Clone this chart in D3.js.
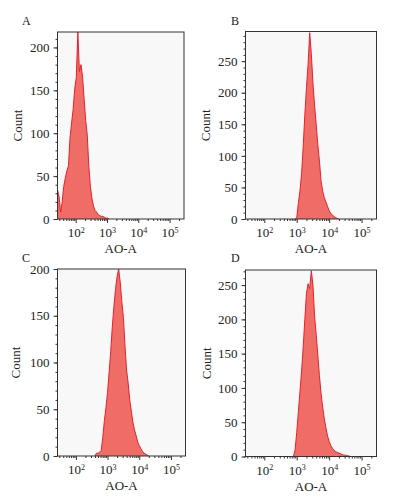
<!DOCTYPE html>
<html>
<head>
<meta charset="utf-8">
<script src="https://cdn.jsdelivr.net/npm/d3@7"></script>
<style>
  body { margin: 0; background: #fff; }
  text { font-family: "Liberation Serif", "Times New Roman", serif; fill: #222; }
</style>
</head>
<body>
<svg id="chart" width="395" height="498"></svg>
<script>
// histogram counts, one value per bin of 0.05 decades (log10 of AO-A)
const binStep = 0.05;

const aStart = 1.42;
const aCounts = [34, 26, 8, 20, 38, 48, 56, 62, 95, 112, 128, 152, 165, 218, 172, 180, 166, 140,
  115, 98, 62, 38, 24, 15, 10, 8, 5, 4, 3, 3, 2, 1, 1, 0];

const bStart = 2.95;
const bCounts = [0, 2, 25, 45, 72, 115, 165, 208, 245, 295, 262, 215, 180, 150, 118, 92, 60, 44,
  34, 27, 20, 13, 9, 6, 4, 2, 1, 0];

const cStart = 2.60;
const cCounts = [0, 3, 3, 4, 6, 20, 38, 52, 68, 90, 112, 138, 160, 178, 192, 200, 186, 165, 148,
  118, 92, 78, 60, 48, 36, 28, 22, 15, 11, 8, 5, 3, 2, 1, 0];

const dStart = 2.90;
const dCounts = [0, 10, 35, 65, 95, 125, 160, 200, 238, 252, 245, 271, 250, 205, 178, 148, 118,
  92, 72, 55, 42, 30, 22, 16, 12, 9, 7, 6, 5, 4, 3, 2, 2, 1, 1, 0];

const xMajor = [1e2, 1e3, 1e4, 1e5];
const xDomain = [Math.pow(10, 1.42), Math.pow(10, 5.46)];

const panels = [
  { label: "A", start: aStart, counts: aCounts, yMax: 218, yTicks: [0, 50, 100, 150, 200],
    left: 57.5, top: 32, right: 184, bottom: 219, labelX: 22, labelY: 25, countX: 17 },
  { label: "B", start: bStart, counts: bCounts, yMax: 297, yTicks: [0, 50, 100, 150, 200, 250],
    left: 245.5, top: 31.5, right: 376.5, bottom: 219, labelX: 231, labelY: 25, countX: 205 },
  { label: "C", start: cStart, counts: cCounts, yMax: 200, yTicks: [0, 50, 100, 150, 200],
    left: 57.5, top: 269, right: 185.5, bottom: 456, labelX: 22, labelY: 262, countX: 15 },
  { label: "D", start: dStart, counts: dCounts, yMax: 272, yTicks: [0, 50, 100, 150, 200, 250],
    left: 245.5, top: 270, right: 376.5, bottom: 456.5, labelX: 231, labelY: 262, countX: 206 }
];

const svg = d3.select("#chart");

// minor log ticks 2..9 for every decade in range
const xMinor = [];
for (let e = 1; e <= 5; e++) {
  for (let m = 2; m <= 9; m++) {
    const v = m * Math.pow(10, e);
    if (v > xDomain[0] && v < xDomain[1]) xMinor.push(v);
  }
}

panels.forEach(p => {
  const w = p.right - p.left, h = p.bottom - p.top;
  const g = svg.append("g").attr("transform", `translate(${p.left},${p.top})`);

  const x = d3.scaleLog().domain(xDomain).range([0, w]);
  const y = d3.scaleLinear().domain([0, p.yMax]).range([h, 0]);

  g.append("rect")
    .attr("width", w).attr("height", h)
    .attr("fill", "#f8f8f8");

  const clipId = "clip" + p.label;
  g.append("clipPath").attr("id", clipId)
    .append("rect").attr("width", w).attr("height", h);

  const pts = p.counts.map((c, i) => ({ v: Math.pow(10, p.start + i * binStep), c: c }));

  const area = d3.area()
    .x(d => x(d.v))
    .y0(h)
    .y1(d => y(d.c));
  const line = d3.line()
    .x(d => x(d.v))
    .y(d => y(d.c));

  g.append("path")
    .datum(pts)
    .attr("clip-path", `url(#${clipId})`)
    .attr("fill", "#f06c66")
    .attr("d", area);
  g.append("path")
    .datum(pts)
    .attr("clip-path", `url(#${clipId})`)
    .attr("fill", "none")
    .attr("stroke", "#e2232a")
    .attr("stroke-width", 1)
    .attr("d", line);

  // y axis: major + minor ticks
  const minorY = d3.range(0, p.yMax + 1, 10);
  g.append("g")
    .call(d3.axisLeft(y).tickValues(minorY).tickSize(2).tickFormat(""))
    .call(a => a.select(".domain").remove())
    .selectAll("line").attr("stroke", "#333");
  const yAx = g.append("g")
    .call(d3.axisLeft(y).tickValues(p.yTicks).tickSize(4).tickPadding(4))
    .call(a => a.select(".domain").remove());
  yAx.selectAll("line").attr("stroke", "#333");
  yAx.selectAll("text")
    .attr("font-size", 13)
    .attr("font-family", '"Liberation Serif", serif')
    .attr("fill", "#222");

  // x axis: decades with superscript labels, minor log ticks
  g.append("g")
    .attr("transform", `translate(0,${h})`)
    .call(d3.axisBottom(x).tickValues(xMinor).tickSize(2).tickFormat(""))
    .call(a => a.select(".domain").remove())
    .selectAll("line").attr("stroke", "#333");
  const xAx = g.append("g")
    .attr("transform", `translate(0,${h})`)
    .call(d3.axisBottom(x).tickValues(xMajor).tickSize(4).tickPadding(7))
    .call(a => a.select(".domain").remove());
  xAx.selectAll("line").attr("stroke", "#333");
  xAx.selectAll("text").each(function (d) {
    const t = d3.select(this);
    const exp = Math.round(Math.log10(d));
    t.text("")
      .attr("font-family", '"Liberation Serif", serif')
      .attr("fill", "#222");
    t.append("tspan").attr("font-size", 13).text("10");
    t.append("tspan").attr("font-size", 8).attr("dy", "-0.55em").text(exp);
  });

  // frame
  g.append("rect")
    .attr("width", w).attr("height", h)
    .attr("fill", "none")
    .attr("stroke", "#333")
    .attr("stroke-width", 1);

  // titles
  svg.append("text")
    .attr("x", p.labelX).attr("y", p.labelY)
    .attr("font-size", 12)
    .text(p.label);

  svg.append("text")
    .attr("transform", `translate(${p.countX},${p.top + h / 2}) rotate(-90)`)
    .attr("text-anchor", "middle")
    .attr("dy", "0.35em")
    .attr("font-size", 13)
    .text("Count");

  svg.append("text")
    .attr("x", p.left + w / 2)
    .attr("y", p.bottom + 34)
    .attr("text-anchor", "middle")
    .attr("font-size", 13)
    .text("AO-A");
});
</script>
</body>
</html>
